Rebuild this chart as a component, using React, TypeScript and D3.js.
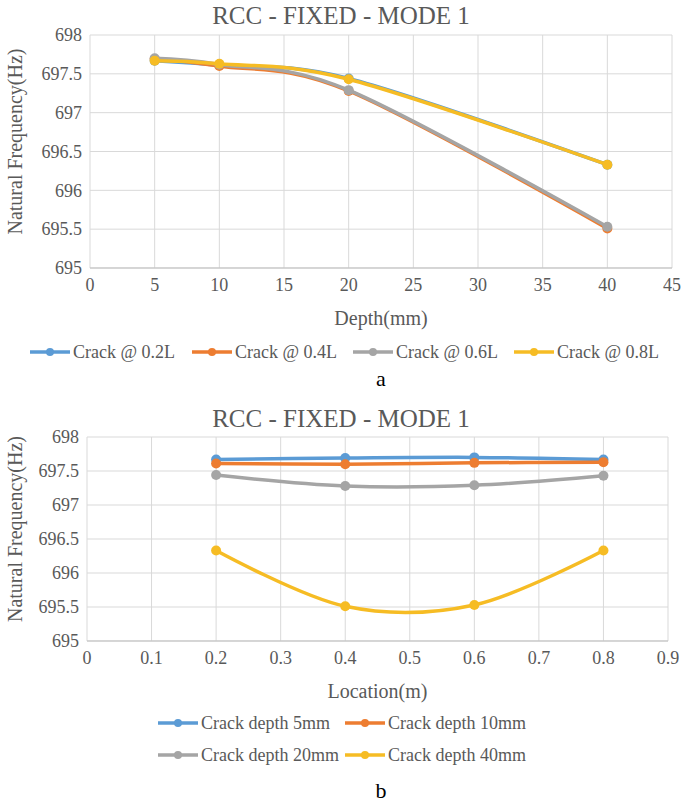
import React from "react";
import * as d3 from "d3";

// crack locations (fraction of L) and crack depths (mm)
const locations = [0.2, 0.4, 0.6, 0.8];
const depths = [5, 10, 20, 40];

// natural frequency (Hz) per crack depth, indexed by location
const freq5mm = [697.67, 697.69, 697.7, 697.67];
const freq10mm = [697.61, 697.6, 697.62, 697.63];
const freq20mm = [697.44, 697.28, 697.29, 697.43];
const freq40mm = [696.33, 695.51, 695.53, 696.33];

const yTicks = [695, 695.5, 696, 696.5, 697, 697.5, 698];
const depthTicks = [0, 5, 10, 15, 20, 25, 30, 35, 40, 45];
const locationTicks = [0, 0.1, 0.2, 0.3, 0.4, 0.5, 0.6, 0.7, 0.8, 0.9];

const colors = ["#5B9BD5", "#ED7D31", "#A5A5A5", "#F6BC24"];
const locationNames = ["Crack @ 0.2L", "Crack @ 0.4L", "Crack @ 0.6L", "Crack @ 0.8L"];
const depthNames = ["Crack depth 5mm", "Crack depth 10mm", "Crack depth 20mm", "Crack depth 40mm"];

const FONT = "Liberation Serif, DejaVu Serif, Times New Roman, serif";
const TXT = "#595959";

type Series = { name: string; xs: number[]; ys: number[]; color: string };

function Chart(props: {
  top: number;
  plot: { left: number; right: number; top: number; bottom: number };
  xTicks: number[];
  xTitle: string;
  series: Series[];
  legend: { x: number; y: number }[];
  tag: string;
  tagY: number;
}) {
  const { plot, xTicks, xTitle, series, legend, tag, tagY, top } = props;
  const x = d3.scaleLinear().domain([xTicks[0], xTicks[xTicks.length - 1]]).range([plot.left, plot.right]);
  const y = d3.scaleLinear().domain([695, 698]).range([plot.bottom, plot.top]);
  const line = d3
    .line<[number, number]>()
    .x(d => x(d[0]))
    .y(d => y(d[1]))
    .curve(d3.curveCardinal.tension(0));
  const ts = { fontFamily: FONT };

  return (
    <g style={ts}>
      <text x={341} y={top} textAnchor="middle" fontSize={25} fill={TXT} style={ts}>
        RCC - FIXED - MODE 1
      </text>
      {yTicks.map(t => (
        <g key={"y" + t}>
          <line x1={plot.left} x2={plot.right} y1={y(t)} y2={y(t)} stroke="#D9D9D9" strokeWidth={1} />
          <text x={plot.left - 8} y={y(t)} dy="0.35em" textAnchor="end" fontSize={18} fill={TXT} style={ts}>
            {t}
          </text>
        </g>
      ))}
      {xTicks.map(t => (
        <g key={"x" + t}>
          <line x1={x(t)} x2={x(t)} y1={plot.top} y2={plot.bottom} stroke="#D9D9D9" strokeWidth={1} />
          <text x={x(t)} y={plot.bottom + 23} textAnchor="middle" fontSize={18} fill={TXT} style={ts}>
            {t}
          </text>
        </g>
      ))}
      <line x1={plot.left} x2={plot.right} y1={plot.bottom} y2={plot.bottom} stroke="#BFBFBF" strokeWidth={1} />
      <text
        transform={`translate(22, ${(plot.top + plot.bottom) / 2 - 10}) rotate(-90)`}
        textAnchor="middle"
        fontSize={20}
        fill={TXT}
        style={ts}
      >
        Natural Frequency(Hz)
      </text>
      <text x={(plot.left + plot.right) / 2} y={plot.bottom + 57} textAnchor="middle" fontSize={20} fill={TXT} style={ts}>
        {xTitle}
      </text>
      {series.map(s => {
        const pts = s.xs.map((v, i) => [v, s.ys[i]] as [number, number]);
        return (
          <g key={s.name}>
            <path d={line(pts) || ""} fill="none" stroke={s.color} strokeWidth={3.5} strokeLinecap="round" />
            {pts.map((p, i) => (
              <circle key={i} cx={x(p[0])} cy={y(p[1])} r={5} fill={s.color} />
            ))}
          </g>
        );
      })}
      {series.map((s, i) => (
        <g key={"lg" + s.name} transform={`translate(${legend[i].x}, ${legend[i].y})`}>
          <line x1={0} x2={40} y1={0} y2={0} stroke={s.color} strokeWidth={3.5} />
          <circle cx={20} cy={0} r={4} fill={s.color} />
          <text x={43} y={0} dy="0.35em" fontSize={18} fill={TXT} style={ts}>
            {s.name}
          </text>
        </g>
      ))}
      <text x={381} y={tagY} textAnchor="middle" fontSize={22} fill="#000" style={ts}>
        {tag}
      </text>
    </g>
  );
}

export default function App() {
  const byDepth = [freq5mm, freq10mm, freq20mm, freq40mm];

  // chart a: one series per crack location across depths
  const seriesA: Series[] = locations.map((_, li) => ({
    name: locationNames[li],
    xs: depths,
    ys: byDepth.map(arr => arr[li]),
    color: colors[li],
  }));

  // chart b: one series per crack depth across locations
  const seriesB: Series[] = depths.map((_, di) => ({
    name: depthNames[di],
    xs: locations,
    ys: byDepth[di],
    color: colors[di],
  }));

  return (
    <svg width={683} height={804} style={{ position: "absolute", left: 0, top: 0, background: "#fff" }}>
      <Chart
        top={24}
        plot={{ left: 90, right: 672, top: 35, bottom: 268 }}
        xTicks={depthTicks}
        xTitle="Depth(mm)"
        series={seriesA}
        legend={[
          { x: 30, y: 352 },
          { x: 192, y: 352 },
          { x: 353, y: 352 },
          { x: 514, y: 352 },
        ]}
        tag="a"
        tagY={386}
      />
      <Chart
        top={427}
        plot={{ left: 87, right: 668, top: 437, bottom: 641 }}
        xTicks={locationTicks}
        xTitle="Location(m)"
        series={seriesB}
        legend={[
          { x: 158, y: 723 },
          { x: 345, y: 723 },
          { x: 158, y: 755 },
          { x: 345, y: 755 },
        ]}
        tag="b"
        tagY={798}
      />
    </svg>
  );
}
